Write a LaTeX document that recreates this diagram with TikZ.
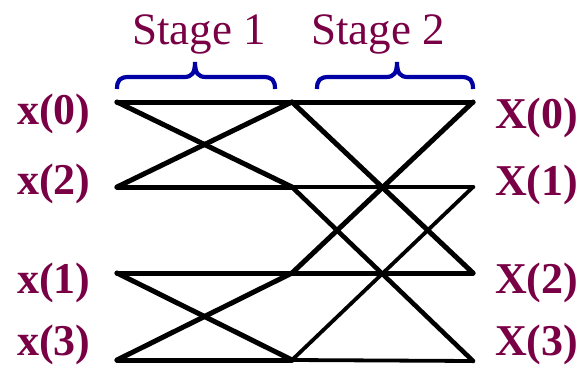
\documentclass[tikz,border=0pt]{standalone}
\usepackage{fontspec}
\setmainfont{Liberation Serif}
\newfontfamily\stagefont{Liberation Serif}
\definecolor{lblcol}{RGB}{122,0,70}
\definecolor{bracecol}{RGB}{0,0,165}
\begin{document}
\begin{tikzpicture}[x=1pt,y=-1pt,
  lbl/.style={inner sep=0pt,text=lblcol,font=\stagefont\fontsize{44}{44}\selectfont\bfseries},
  stagelbl/.style={inner sep=0pt,text=lblcol,font=\stagefont\fontsize{45}{45}\selectfont},
  wire/.style={line width=5pt,line cap=round,black},
  midwire/.style={line width=4.6pt,line cap=round,black},
  thinwire/.style={line width=3.8pt,line cap=round,black},
  bracestyle/.style={line width=4.2pt,bracecol,line cap=butt}]
\useasboundingbox (0,0) rectangle (582,365);
% butterfly points
\coordinate (a0) at (117,102);
\coordinate (a2) at (117,187);
\coordinate (a1) at (117,273);
\coordinate (a3) at (117,360);
\coordinate (b0) at (292,102);
\coordinate (b2) at (292,187);
\coordinate (b1) at (292,273);
\coordinate (b3) at (292,360);
\coordinate (c0) at (473,102);
\coordinate (c1) at (473,187);
\coordinate (c2) at (473,273);
\coordinate (c3) at (473,361);
% stage 1
\draw[wire] (a0) -- (b0);
\draw[wire] (a2) -- (b2);
\draw[wire] (a1) -- (b1);
\draw[wire] (a3) -- (b3);
\draw[wire] (a0) -- (b2);
\draw[wire] (a2) -- (b0);
\draw[wire] (a1) -- (b3);
\draw[wire] (a3) -- (b1);
% stage 2
\draw[wire] (b0) -- (c0);
\draw[midwire] (b2) -- (c1);
\draw[wire] (b1) -- (c2);
\draw[thinwire] (b3) -- (c3);
\draw[wire] (b0) -- (c2);
\draw[wire] (c0) -- (b1);
\draw[midwire] (b2) -- (c3);
\draw[thinwire] (b3) -- (c1);
% braces
\draw[bracestyle] (117,89) .. controls (117,80) and (120,77) .. (129,77) -- (184,77)
  .. controls (192,77) and (195,73) .. (195,62)
  .. controls (195,73) and (198,77) .. (206,77) -- (263,77)
  .. controls (272,77) and (275,80) .. (275,89);
\draw[bracestyle] (317,89) .. controls (317,80) and (320,77) .. (329,77) -- (386,77)
  .. controls (394,77) and (397,73) .. (397,62)
  .. controls (397,73) and (400,77) .. (408,77) -- (461,77)
  .. controls (470,77) and (473,80) .. (473,89);
% stage labels
\node[stagelbl,anchor=base] (s1) at (199,44) {Stage 1};
\node[stagelbl,anchor=base] (s2) at (378,44) {Stage 2};
% input labels
\node[lbl,anchor=base west] (x0) at (17,124) {x(0)};
\node[lbl,anchor=base west] (x2) at (17,194) {x(2)};
\node[lbl,anchor=base west] (x1) at (17,293) {x(1)};
\node[lbl,anchor=base west] (x3) at (17,355) {x(3)};
% output labels
\node[lbl,anchor=base west] (X0) at (495,128) {X(0)};
\node[lbl,anchor=base west] (X1) at (495,195) {X(1)};
\node[lbl,anchor=base west] (X2) at (495,293) {X(2)};
\node[lbl,anchor=base west] (X3) at (495,355) {X(3)};
\end{tikzpicture}
\end{document}
